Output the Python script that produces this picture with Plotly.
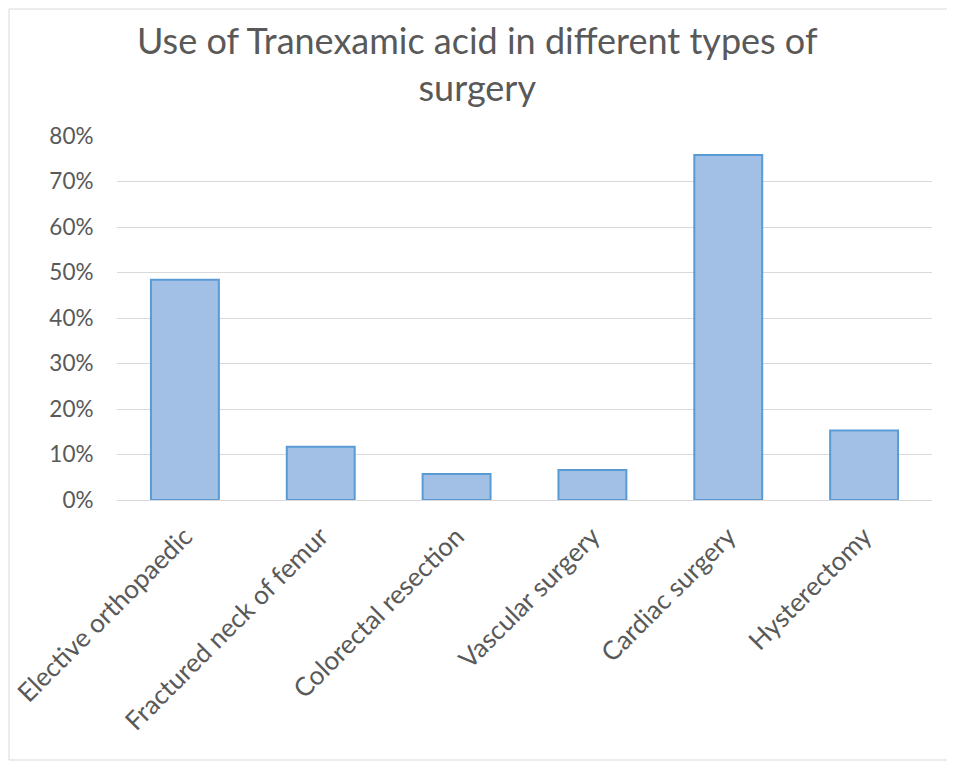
import plotly.graph_objects as go

categories = ["Elective orthopaedic", "Fractured neck of femur", "Colorectal resection",
              "Vascular surgery", "Cardiac surgery", "Hysterectomy"]
values = [0.484, 0.117, 0.057, 0.066, 0.758, 0.153]
y_ticks = [0, 0.1, 0.2, 0.3, 0.4, 0.5, 0.6, 0.7, 0.8]
y_tick_labels = ["0%", "10%", "20%", "30%", "40%", "50%", "60%", "70%", "80%"]
title_text = "Use of Tranexamic acid in different types of<br>surgery"

FONT = "Lato, 'Open Sans', sans-serif"
GREY = "#595959"

# page body has an 8px default margin; compensate so the plot lands where the reference has it
W, H = 947, 753
L, T, R, B = 109, 128, 23, 261
pw, ph = W - L - R, H - T - B

fig = go.Figure(go.Bar(
    x=categories, y=values, width=0.5,
    marker=dict(color="#a2bfe6", line=dict(color="#5b9bd5", width=2)),
))

fig.update_layout(
    width=W, height=H,
    paper_bgcolor="white", plot_bgcolor="white",
    margin=dict(l=L, r=R, t=T, b=B, autoexpand=False),
    showlegend=False,
)
fig.add_annotation(
    text=title_text, xref="paper", yref="paper",
    x=(477 - 8 - L) / pw, y=1 + (136 - 63) / ph, xanchor="center", yanchor="middle",
    showarrow=False, font=dict(family=FONT, size=36, color=GREY),
)
fig.update_xaxes(
    automargin=False,
    tickangle=-45, tickfont=dict(family=FONT, size=26, color=GREY),
    showline=True, linecolor="#d9d9d9", linewidth=1, showgrid=False,
    ticks="outside", ticklen=10, tickcolor="rgba(0,0,0,0)",
)
fig.update_yaxes(
    automargin=False,
    range=[0, 0.8], tickvals=y_ticks, ticktext=y_tick_labels,
    tickfont=dict(family=FONT, size=22.5, color=GREY),
    showgrid=True, gridcolor="#d9d9d9", gridwidth=1, zeroline=False,
    ticks="outside", ticklen=18, tickcolor="rgba(0,0,0,0)",
)
fig.add_shape(type="rect", xref="paper", yref="paper",
              x0=-(L - 1) / pw, x1=1 + (R - 1) / pw, y0=-(B - 1) / ph, y1=1 + (T - 1) / ph,
              line=dict(color="#d9d9d9", width=1))
fig.write_html("out.html")
